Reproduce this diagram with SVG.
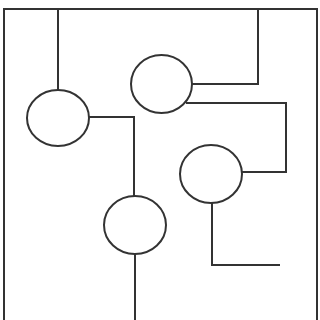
<svg xmlns="http://www.w3.org/2000/svg" width="320" height="320" viewBox="0 0 320 320">
<style>
.l{fill:none;stroke:#333;stroke-width:2}
.n{fill:#fff;stroke:#333;stroke-width:2}
</style>
<rect width="320" height="320" fill="#fff"/>
<g id="connectors">
<path class="l" d="M4,322 V9 H317 V322"/>
<path class="l" d="M58,9 V90"/>
<path class="l" d="M89,117 H134 V196"/>
<path class="l" d="M135,254 V322"/>
<path class="l" d="M258,9 V84 H192"/>
<path class="l" d="M186,103 H286 V172 H242"/>
<path class="l" d="M212,203 V265 H280"/>
</g>
<g id="n1"><ellipse class="n" cx="58" cy="118" rx="31" ry="28"/></g>
<g id="n2"><ellipse class="n" cx="161.5" cy="84" rx="30.5" ry="29"/></g>
<g id="n3"><ellipse class="n" cx="135" cy="225" rx="31" ry="29"/></g>
<g id="n4"><ellipse class="n" cx="211" cy="174" rx="31" ry="29"/></g>
</svg>
